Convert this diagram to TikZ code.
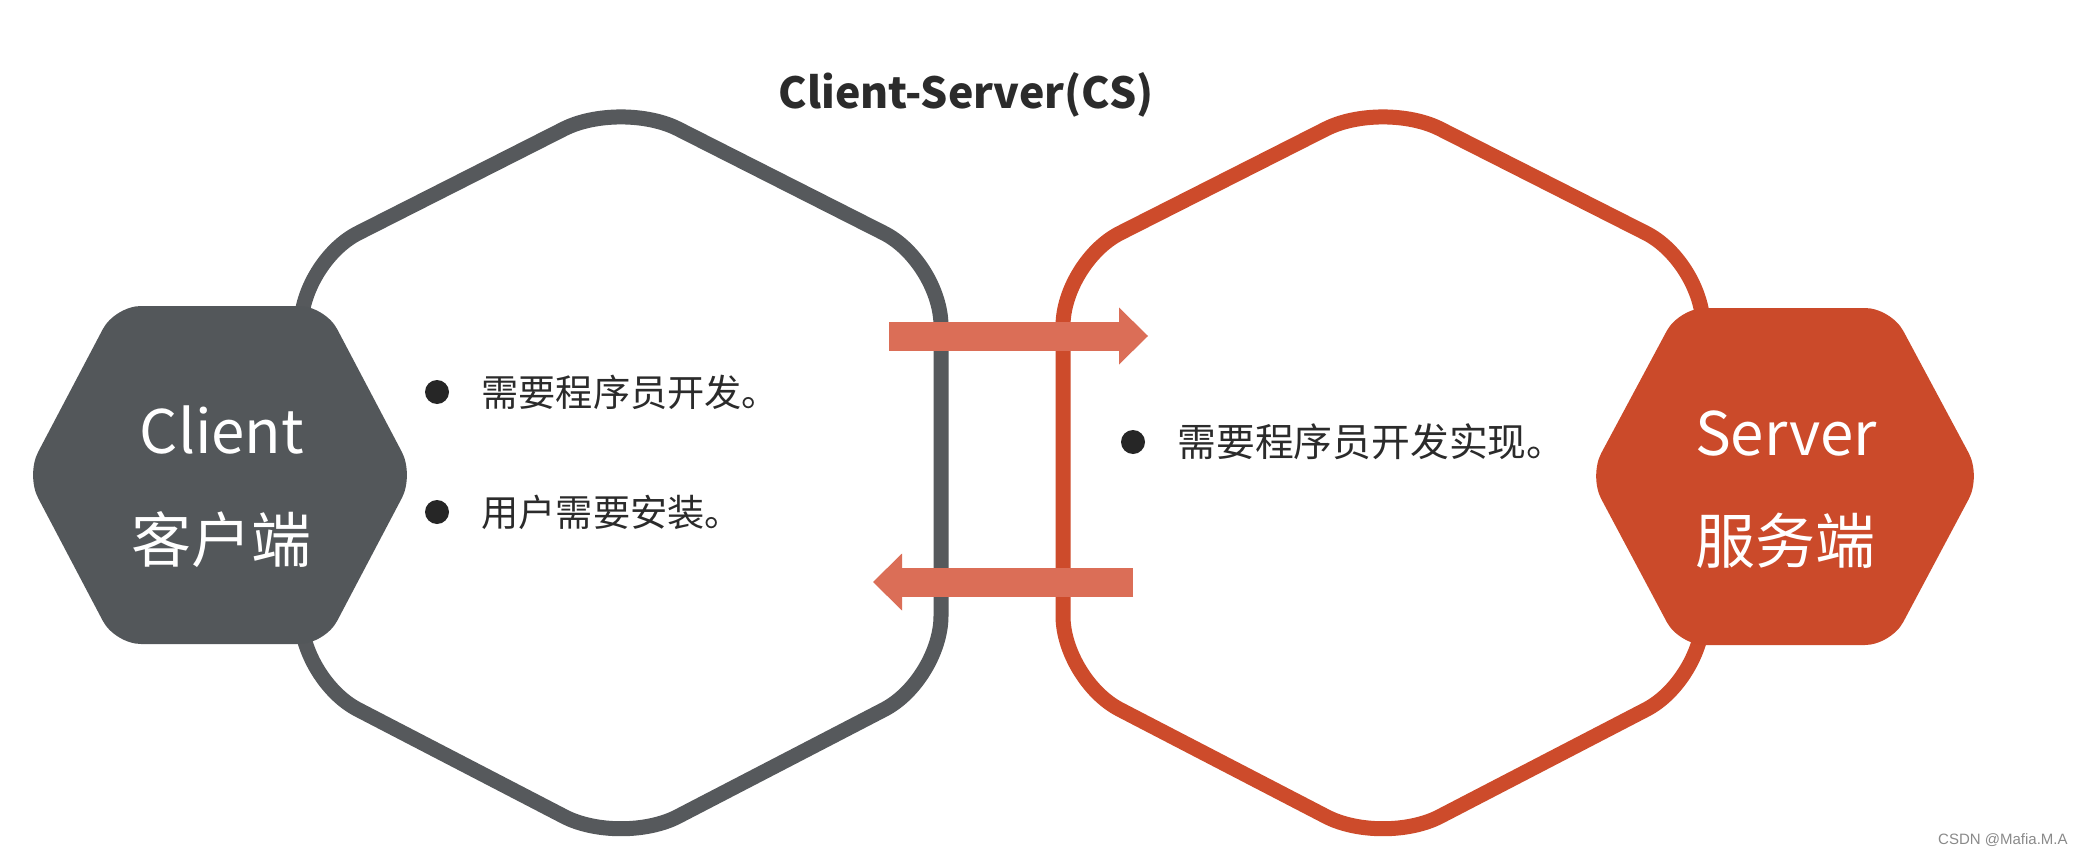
\documentclass[tikz,border=0pt]{standalone}
\usepackage{fontspec}
\newfontfamily\cjk{Noto Sans CJK SC}
\newfontfamily\wmfont{Liberation Sans}
\usetikzlibrary{arrows.meta}
\definecolor{gstroke}{HTML}{56595C}
\definecolor{clientfill}{HTML}{53575A}
\definecolor{rstroke}{HTML}{CD4B2B}
\definecolor{serverfill}{HTML}{CB4A2A}
\definecolor{arrowc}{HTML}{DB6E57}
\definecolor{textc}{HTML}{2B2B2B}
\definecolor{bulletc}{HTML}{262626}
\definecolor{wmc}{HTML}{8A8A8A}
\tikzset{
  bigclient/.style={draw=gstroke, line width=7.5pt, rounded corners=32pt, line join=round},
  bigserver/.style={draw=rstroke, line width=7.5pt, rounded corners=32pt, line join=round},
  smallhex/.style={rounded corners=13pt},
  lbl/.style={font=\cjk\fontsize{30}{36}\selectfont, text=white, inner sep=0pt},
  item/.style={font=\cjk\fontsize{18.6}{22}\selectfont, text=textc, inner sep=0pt, anchor=west},
  bulletdot/.style={circle, fill=bulletc, minimum size=12pt, inner sep=0pt},
  flow/.style={draw=arrowc, line width=14.5pt, line cap=butt,
    -{Triangle[length=14.5pt, width=28.5pt, line width=0pt]}}
}
\begin{document}
\begin{tikzpicture}[x=0.5pt,y=-0.5pt]
\fill[white] (0,0) rectangle (2084,856);
\useasboundingbox (0,0) rectangle (2084,856);

% large outline hexagons
\draw[bigclient] (621,100) -- (941,262) -- (941,680) -- (621,846) -- (301,680) -- (301,262) -- cycle;
\draw[bigserver] (1383,100) -- (1703,262) -- (1703,680) -- (1383,846) -- (1063,680) -- (1063,262) -- cycle;

% small filled hexagons
\fill[clientfill, smallhex] (115,306) -- (325,306) -- (414,475) -- (325,644) -- (115,644) -- (26,475) -- cycle;
\fill[serverfill, smallhex] (1679,308) -- (1891,308) -- (1981,476) -- (1891,645) -- (1679,645) -- (1589,476) -- cycle;

% arrows
\coordinate (r1) at (889,336);
\coordinate (r2) at (1148,336);
\draw[flow] (r1) -- (r2);
\coordinate (l1) at (1133,582);
\coordinate (l2) at (873,582);
\draw[flow] (l1) -- (l2);

% title
\node[font=\cjk\bfseries\fontsize{21.4}{26}\selectfont, text=textc, inner sep=0pt, anchor=base] (title) at (966,109) {Client-Server(CS)};

% labels
\node[lbl, anchor=base] (clientEn) at (222,453) {Client};
\node[lbl, anchor=base] (clientZh) at (221,562) {客户端};
\node[lbl, anchor=base] (serverEn) at (1786,455) {Server};
\node[lbl, anchor=base] (serverZh) at (1785,563) {服务端};

% bullets
\node[bulletdot] (b1) at (437,392) {};
\node[item] (t1) at (481,392) {需要程序员开发。};
\node[bulletdot] (b2) at (437,512) {};
\node[item] (t2) at (481,512) {用户需要安装。};
\node[bulletdot] (b3) at (1133,442) {};
\node[item, font=\cjk\fontsize{19.4}{23}\selectfont] (t3) at (1177,442) {需要程序员开发实现。};

% watermark
\node[font=\wmfont\fontsize{7.5}{9}\selectfont, text=wmc, inner sep=0pt, anchor=east] (wm) at (2068,840) {CSDN @Mafia.M.A};
\end{tikzpicture}
\end{document}
